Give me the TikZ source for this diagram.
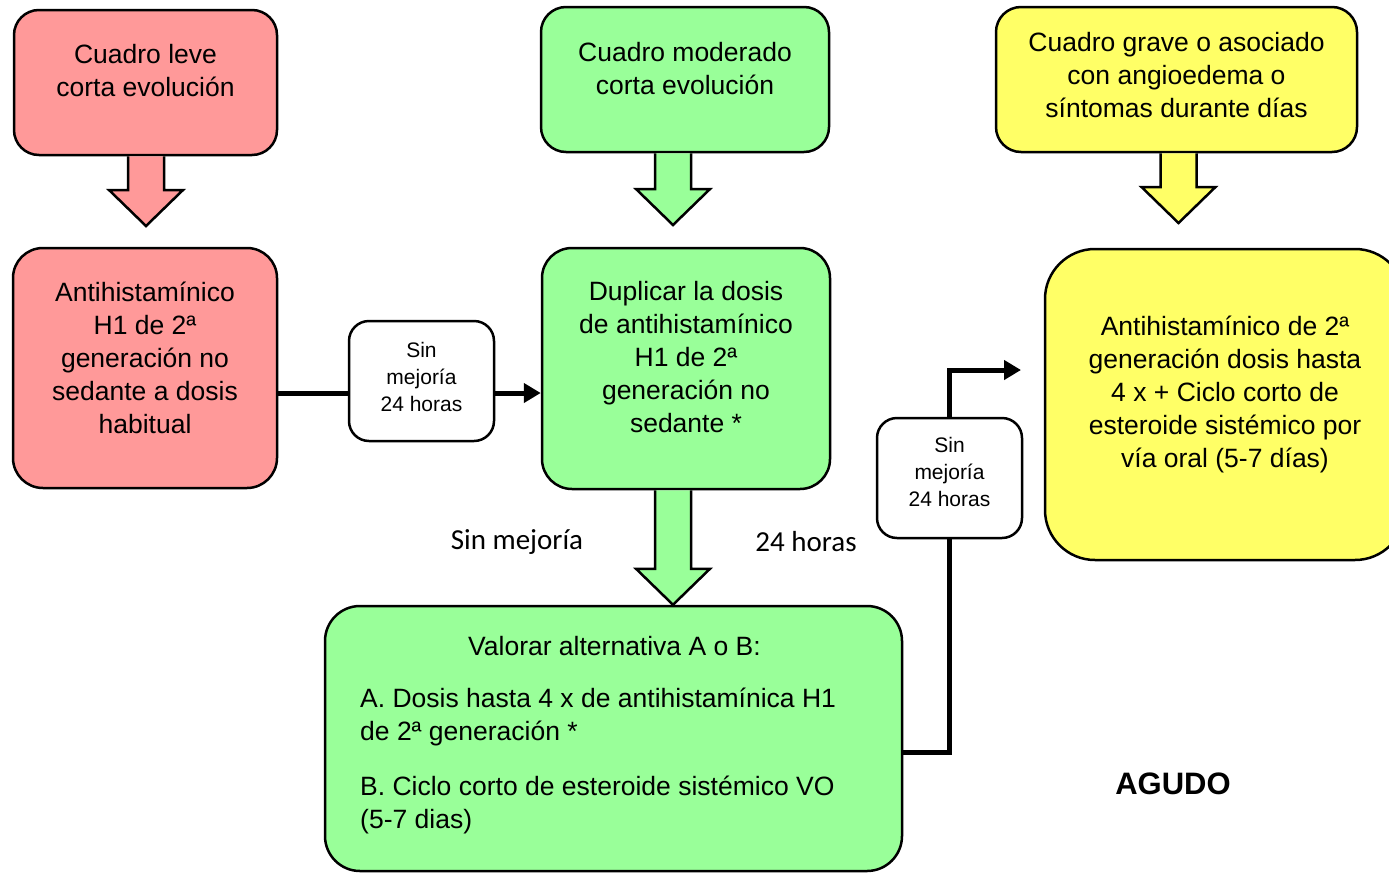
\documentclass[tikz,border=0pt]{standalone}
\usepackage{fontspec}
\setmainfont{Liberation Sans}
\newfontfamily\calibri{Carlito}
\usetikzlibrary{arrows.meta,calc}
\definecolor{leve}{HTML}{FF9999}
\definecolor{moderado}{HTML}{99FF99}
\definecolor{grave}{HTML}{FFFF66}
% block arrow: start point, tip, fill colour
\newcommand{\blockarrow}[3]{%
  \draw[line width=2.5pt, fill=#3] ($(#1)+(-18,0)$) -- ($(#2)+(-18,-36)$) -- ($(#2)+(-37,-36)$)
    -- (#2) -- ($(#2)+(37,-36)$) -- ($(#2)+(18,-36)$) -- ($(#1)+(18,0)$);
}
\begin{document}
\begin{tikzpicture}[x=1pt,y=-1pt]
       \tikzstyle{box}=[draw, line width=2.5pt, rounded corners=25pt, inner sep=0pt]
       \tikzstyle{txt}=[align=center, font=\fontsize{26.5}{33}\selectfont]
       \tikzstyle{smallbox}=[draw, line width=2.5pt, rounded corners=20pt, fill=white, minimum width=145pt, minimum height=120pt]
       \tikzstyle{smalltxt}=[align=center, font=\fontsize{21}{27}\selectfont]
       \tikzstyle{conn}=[line width=5pt]
       \tikzstyle{tip}=[-{Triangle[length=17pt,width=19pt]}]
       \useasboundingbox (0,0) rectangle (1389,873);
       % boxes
       \node[box, fill=leve, minimum width=263pt, minimum height=145pt] (leve1) at (145.5,82.5) {};
       \node[box, fill=leve, minimum width=264pt, minimum height=240pt, rounded corners=30pt] (leve2) at (145,368) {};
       \node[box, fill=moderado, minimum width=288pt, minimum height=145pt] (mod1) at (685,79.5) {};
       \node[box, fill=moderado, minimum width=288pt, minimum height=241pt, rounded corners=30pt] (mod2) at (686,368.5) {};
       \node[box, fill=moderado, minimum width=577pt, minimum height=265pt, rounded corners=35pt] (mod3) at (613.5,738.5) {};
       \node[box, fill=grave, minimum width=361pt, minimum height=145pt] (grave1) at (1176.5,79.5) {};
       \node[box, fill=grave, minimum width=360pt, minimum height=311pt, rounded corners=50pt] (grave2) at (1225,404.5) {};
       \node[smallbox] (sin1) at (421.5,381) {};
       \node[smallbox] (sin2) at (949.5,478) {};
       % texts
       \node[txt] (leve1txt) at (145.5,70.5) {Cuadro leve\\corta evolución};
       \node[txt] (leve2txt) at (145,357.5) {Antihistamínico\\H1 de 2ª\\generación no\\sedante a dosis\\habitual};
       \node[txt] (mod1txt) at (685,69) {Cuadro moderado\\corta evolución};
       \node[txt] (mod2txt) at (686,357.5) {Duplicar la dosis\\de antihistamínico\\H1 de 2ª\\generación no\\sedante *};
       \node[txt] (mod3title) at (614.5,646) {Valorar alternativa A o B:};
       \node[txt, align=left, anchor=west, inner sep=0pt] (mod3txt) at (360,761) {A. Dosis hasta 4 x de antihistamínica H1\\de 2ª generación *\\[22pt]B. Ciclo corto de esteroide sistémico VO\\(5-7 dias)};
       \node[txt] (grave1txt) at (1176.5,75) {Cuadro grave o asociado\\con angioedema o\\síntomas durante días};
       \node[txt] (grave2txt) at (1225,394) {Antihistamínico de 2ª\\generación dosis hasta\\4 x + Ciclo corto de\\esteroide sistémico por\\vía oral (5-7 días)};
       \node[smalltxt] (sin1txt) at (421.5,376.5) {Sin\\mejoría\\24 horas};
       \node[smalltxt] (sin2txt) at (949.5,472) {Sin\\mejoría\\24 horas};
       \node[font=\calibri\fontsize{29}{35}\selectfont] (sinlbl) at (517,542) {Sin mejoría};
       \node[font=\calibri\fontsize{29}{35}\selectfont] (horaslbl) at (806,542) {24 horas};
       \node[font=\bfseries\fontsize{31}{37}\selectfont] (agudo) at (1173,784) {AGUDO};
       % block arrows
       \coordinate (levetip) at (146,226);
       \coordinate (modtip) at (673,225);
       \coordinate (gravetip) at (1178.5,223);
       \blockarrow{leve1.south -| levetip}{levetip}{leve}
       \blockarrow{mod1.south -| modtip}{modtip}{moderado}
       \blockarrow{grave1.south -| gravetip}{gravetip}{grave}
       \blockarrow{mod2.south -| modtip}{mod3.north -| modtip}{moderado}
       % connectors
       \coordinate (l1) at (0,393);
       \coordinate (l2) at (1021,370);
       \draw[conn] (leve2.east |- l1) -- (sin1.west |- l1);
       \draw[conn, tip] (sin1.east |- l1) -- (mod2.west |- l1);
       \draw[conn] (mod3.east |- 0,752) -| (sin2.south);
       \draw[conn, tip] (sin2.north) |- (l2);
\end{tikzpicture}
\end{document}
